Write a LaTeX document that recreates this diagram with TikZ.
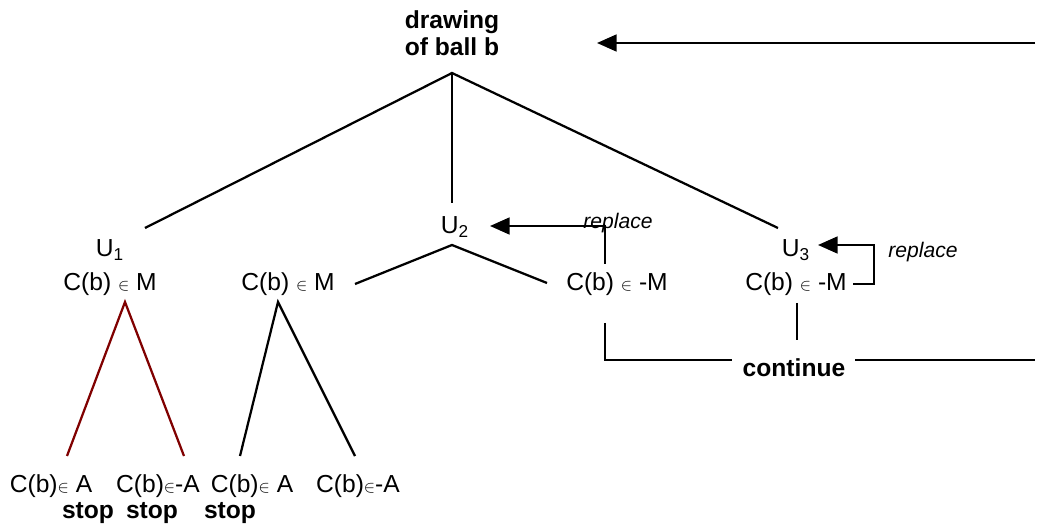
\documentclass[tikz,border=0pt]{standalone}
\usepackage{fontspec}
\setmainfont{Liberation Sans}
\usetikzlibrary{arrows.meta}
\definecolor{darkred}{RGB}{128,0,0}
\tikzstyle{cond} = [inner sep=1pt, text centered, font=\fontsize{17.5}{20}\selectfont]
\tikzstyle{word} = [inner sep=1pt, text centered, font=\fontsize{17.5}{19.5}\selectfont\bfseries]
\tikzstyle{note} = [inner sep=1pt, font=\fontsize{15}{18}\selectfont\itshape]
\tikzstyle{branch} = [line width=1.6pt]
\tikzstyle{branch_red} = [line width=1.6pt, draw=darkred]
\tikzstyle{arrow} = [line width=1.6pt, -{Triangle[length=14pt,width=12pt]}]
\newcommand{\elem}{{\fontsize{12}{14}\selectfont$\in$}}

\begin{document}
\begin{tikzpicture}[x=0.025cm, y=-0.025cm]
		\useasboundingbox (0,0) rectangle (1042,525);
		
		% draw and urns
		\node (ball) [word, align=center] at (452,33) {drawing\\of ball b};
		\node (u1) [cond] at (110,250) {U\textsubscript{1}};
		\node (m1) [cond] at (110,284) {C(b) \elem{} M};
		\node (u2) [cond] at (455,227) {U\textsubscript{2}};
		\node (m2) [cond] at (288,284) {C(b) \elem{} M};
		\node (n2) [cond] at (617,284) {C(b) \elem{} -M};
		\node (u3) [cond] at (796,250) {U\textsubscript{3}};
		\node (n3) [cond] at (796,284) {C(b) \elem{} -M};
		\node (rep2) [note] at (618,223) {replace};
		\node (rep3) [note] at (923,252) {replace};
		\node (cont) [word] at (794,368) {continue};
		
		% leaves
		\node (a1) [cond] at (51,486) {C(b)\elem{} A};
		\node (na1) [cond] at (158,486) {C(b)\elem-A};
		\node (a2) [cond] at (252,486) {C(b)\elem{} A};
		\node (na2) [cond] at (358,486) {C(b)\elem-A};
		\node (s1) [word] at (88,513) {stop};
		\node (s2) [word] at (152,513) {stop};
		\node (s3) [word] at (230,513) {stop};
		
		\coordinate (apex) at (452,73);
		\coordinate (t1) at (145,228);
		\coordinate (t2) at (452,203);
		\coordinate (t3) at (778,228);
		\coordinate (apex2) at (452,245);
		\coordinate (l2) at (355,284);
		\coordinate (r2) at (547,283);
		\coordinate (apex_red) at (125,302);
		\coordinate (red_l) at (67,456);
		\coordinate (red_r) at (184,456);
		\coordinate (apex_blk) at (278,302);
		\coordinate (blk_l) at (240,456);
		\coordinate (blk_r) at (355,456);
		
		\draw [branch] (t1) -- (apex) -- (t3);
		\draw [branch] (apex) -- (t2);
		\draw [branch] (l2) -- (apex2) -- (r2);
		\draw [branch_red] (red_l) -- (apex_red) -- (red_r);
		\draw [branch] (blk_l) -- (apex_blk) -- (blk_r);
		
		% replacing the ball
		\coordinate (from2) at (605,264);
		\coordinate (to2) at (490,226);
		\coordinate (from3) at (853,284);
		\coordinate (to3) at (818,245);
		\draw [arrow] (from2) |- (to2);
		\draw [arrow] (from3) -- (874,284) |- (to3);
		
		% continue and back to the top
		\coordinate (c3_top) at (797,303);
		\coordinate (c3_bot) at (797,340);
		\coordinate (c2_top) at (605,323);
		\coordinate (c_left) at (732,360);
		\coordinate (c_right) at (855,360);
		\coordinate (c_end) at (1035,360);
		\coordinate (back) at (1035,43);
		\coordinate (back_tip) at (597,43);
		\draw [branch] (c3_top) -- (c3_bot);
		\draw [branch] (c2_top) |- (c_left);
		\draw [branch] (c_right) -- (c_end);
		\draw [arrow] (back) -- (back_tip);
		\end{tikzpicture}
\end{document}
